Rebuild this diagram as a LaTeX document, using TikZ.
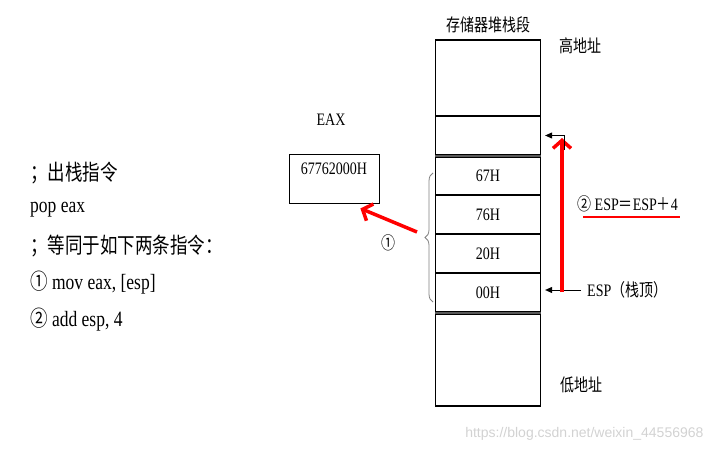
\documentclass[tikz,border=0pt]{standalone}
\usepackage{fontspec}
\setmainfont{Liberation Serif}
\setsansfont{Liberation Sans}
\newfontfamily\cjk{Noto Sans CJK SC}
\usetikzlibrary{arrows.meta,decorations.pathreplacing}
\newcommand{\tallt}[1]{\scalebox{1}[1.25]{#1}}
\begin{document}
\begin{tikzpicture}[x=1pt,y=-1pt,
  cell/.style={draw,line width=1.2pt,minimum width=105pt,minimum height=39pt,inner sep=0pt,font=\fontsize{14}{16}\selectfont},
  redarr/.style={red,line width=3.5pt,-{Straight Barb[length=8pt,width=18pt]}},
  ptr/.style={line width=0.9pt,-{Triangle[length=7pt,width=6pt]}},
  code/.style={anchor=west,inner sep=0pt,font=\fontsize{17.5}{19}\selectfont},
  lab/.style={inner sep=0pt,font=\fontsize{14}{16}\selectfont}]
\useasboundingbox (0,0) rectangle (717,452);
% stack segment
\node[cell,minimum height=76pt] (top) at (488,78) {};
\node[cell] (free) at (488,135.5) {};
\node[cell,minimum height=38pt] (b67) at (488,176) {\tallt{67H}};
\node[cell] (b76) at (488,214.5) {\tallt{76H}};
\node[cell] (b20) at (488,253.5) {\tallt{20H}};
\node[cell] (b00) at (488,292.5) {\tallt{00H}};
\node[cell,minimum height=92pt] (bot) at (488,360) {};
\draw[gray!70!black,line width=2pt] (free.south west) -- (free.south east);
\draw[gray!70!black,line width=2pt] (bot.north west) -- (bot.north east);
\node[lab] (title) at (488,25) {\tallt{\cjk 存储器堆栈段}};
\node[lab] (high) at (580,46) {\tallt{\cjk 高地址}};
\node[lab] (low) at (581,385) {\tallt{\cjk 低地址}};
% EAX register
\node[lab] (eaxname) at (331,120) {\tallt{EAX}};
\node[draw,line width=0.8pt,minimum width=90pt,minimum height=49pt,inner sep=0pt] (eax) at (334,178.5) {};
\node[lab,anchor=north] (eaxval) at ([yshift=-9pt]eax.north) {\tallt{67762000H}};
% brace and step 1
\draw[gray,line width=0.8pt,decorate,decoration={brace,amplitude=8pt}] (433,302) -- (433,173);
\coordinate (brtip) at (417,232);
\draw[redarr] (brtip) -- ([xshift=-19pt,yshift=-5pt]eax.south east);
\node[lab] (one) at (388,243) {\tallt{\cjk ①}};
% esp pointers
\coordinate (espfrom) at (581,290);
\draw[ptr,shorten >=4pt] (espfrom) -- (b00.east |- espfrom);
\node[lab,anchor=west] (esp) at (587,290) {\tallt{ESP{\cjk （栈顶）}}};
\coordinate (spold) at (562,292);
\coordinate (spnew) at (562,138);
\draw[redarr] (spold) -- (spnew);
\coordinate (elbow) at (564,150);
\draw[ptr,shorten >=4pt] (elbow) |- (free.east);
\node[lab,anchor=west] (two) at (577,204) {\tallt{{\cjk ②} ESP{\cjk ＝}ESP{\cjk ＋}4}};
\draw[red,line width=2.5pt] (583,217) -- (680,217);
% instructions
\node[code] (l1) at (30,173) {\tallt{\cjk ；出栈指令}};
\node[code] (l2) at (30,210) {\tallt{pop eax}};
\node[code] (l3) at (30,246) {\tallt{\cjk ；等同于如下两条指令：}};
\node[code] (l4) at (30,283) {\tallt{{\cjk ①} mov eax, [esp]}};
\node[code] (l5) at (30,320) {\tallt{{\cjk ②} add esp, 4}};
\node[anchor=east,text=gray!35,font=\sffamily\fontsize{14}{16}\selectfont] (mark) at (707,434) {https://blog.csdn.net/weixin\_44556968};
\end{tikzpicture}
\end{document}
